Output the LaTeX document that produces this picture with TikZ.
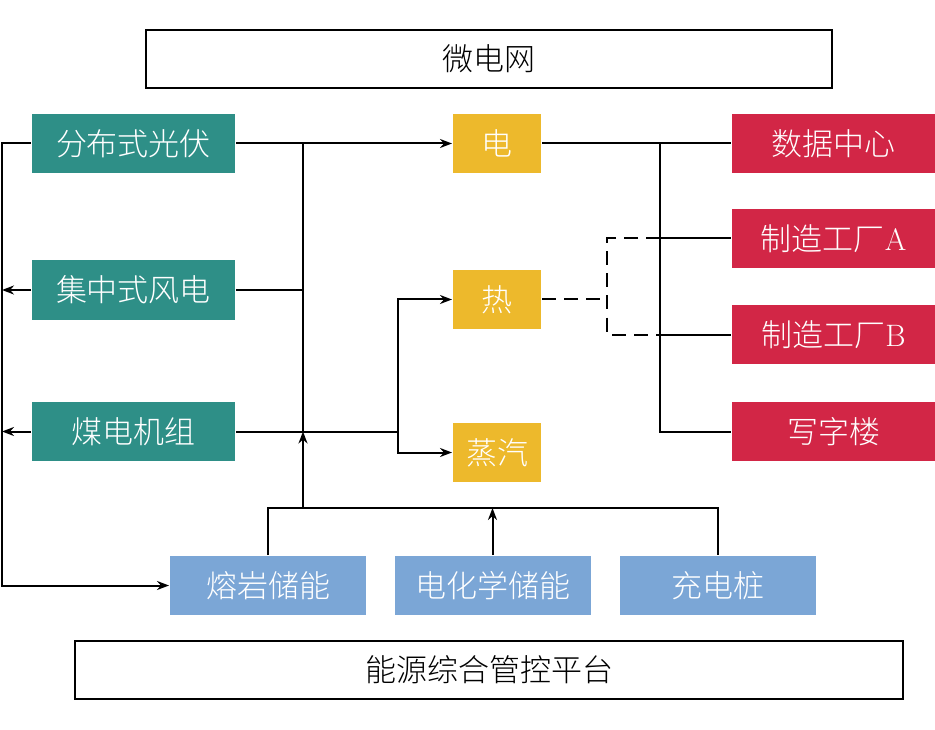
\documentclass[tikz,border=0pt]{standalone}
\usepackage{fontspec}
\newfontfamily\cjk{Noto Sans CJK SC}[UprightFont={* Light}]
\usetikzlibrary{arrows.meta}
\definecolor{gencol}{RGB}{46,143,135}
\definecolor{loadcol}{RGB}{210,38,70}
\definecolor{formcol}{RGB}{237,185,44}
\definecolor{storecol}{RGB}{123,166,214}
\tikzset{
  box/.style={inner sep=0pt, minimum height=59pt, text=white,
    font=\fontsize{31}{36}\selectfont\cjk},
  genbox/.style={box, fill=gencol, minimum width=203pt},
  formbox/.style={box, fill=formcol, minimum width=88pt},
  loadbox/.style={box, fill=loadcol, minimum width=203pt},
  storebox/.style={box, fill=storecol, minimum width=196pt},
  framebox/.style={draw, line width=1.5pt, inner sep=0pt, minimum height=58pt,
    font=\fontsize{31}{36}\selectfont\cjk},
  flow/.style={-{Stealth[length=12pt,width=9pt]}},
}
\begin{document}
\begin{tikzpicture}[x=1pt,y=-1pt,line width=2pt]
    \useasboundingbox (0,0) rectangle (935,730);

    \node[framebox, minimum width=686pt] (grid) at (489,59) {微电网};
    \node[framebox, minimum width=828pt] (plat) at (489,670) {能源综合管控平台};

    \node[genbox] (pv) at (133.5,143.5) {分布式光伏};
    \node[genbox] (wind) at (133.5,290) {集中式风电};
    \node[genbox] (coal) at (133.5,431.5) {煤电机组};

    \node[formbox] (ele) at (497,143.5) {电};
    \node[formbox] (heat) at (497,299.5) {热};
    \node[formbox] (steam) at (497,452.5) {蒸汽};

    \node[loadbox] (dc) at (833.5,143.5) {数据中心};
    \node[loadbox] (fa) at (833.5,238.5) {制造工厂{\rmfamily A}};
    \node[loadbox] (fb) at (833.5,334.5) {制造工厂{\rmfamily B}};
    \node[loadbox] (office) at (833.5,431.5) {写字楼};

    \node[storebox] (salt) at (268,585.5) {熔岩储能};
    \node[storebox] (chem) at (492.5,585.5) {电化学储能};
    \node[storebox] (pile) at (717.5,585.5) {充电桩};

    \coordinate (lt) at (2,143.5);
    \coordinate (lb) at (2,585.5);
    \coordinate (mt) at (303,143.5);
    \coordinate (mb) at (303,508);
    \coordinate (hs) at (398,431.5);
    \coordinate (rb) at (660,143.5);
    \coordinate (dv) at (607,299.5);

    % left bus to molten salt
    \draw[flow] (pv.west) -- (lt) -- (lb) -- (salt.west);
    \draw[flow] (wind.west) -- (wind.west -| lt);
    \draw[flow] (coal.west) -- (coal.west -| lt);

    % middle bus
    \draw[flow] (pv.east) -- (ele.west);
    \draw (wind.east) -- (wind.east -| mt);
    \draw (mt) -- (coal.east -| mt);
    \draw[flow] (mb) -- (coal.east -| mb);
    \draw (coal.east) -- (hs);
    \draw[flow] (hs) |- (heat.west);
    \draw[flow] (hs) |- (steam.west);

    % storage bus
    \draw (salt.north) -- (salt.north |- mb) -- (pile.north |- mb) -- (pile.north);
    \draw[flow] (chem.north) -- (chem.north |- mb);

    % loads
    \draw (ele.east) -- (dc.west);
    \draw (rb) |- (office.west);
    \draw (rb |- fa.west) -- (fa.west);
    \draw (rb |- fb.west) -- (fb.west);

    % heat (dashed)
    \draw[dashed, dash pattern=on 14pt off 8pt] (heat.east) -- (dv);
    \draw[dashed, dash pattern=on 14pt off 8pt] (rb |- fa.west) -- (dv |- fa.west) -- (dv |- fb.west) -- (rb |- fb.west);
\end{tikzpicture}
\end{document}
